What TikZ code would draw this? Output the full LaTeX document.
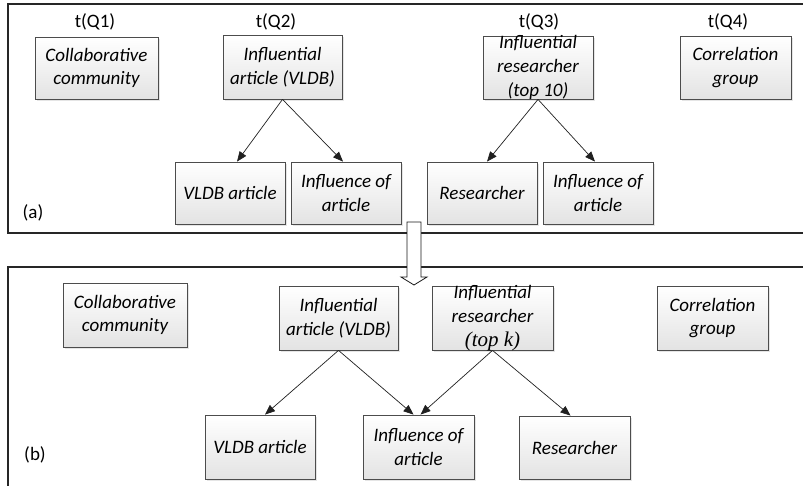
\documentclass[tikz,border=0pt]{standalone}
\usepackage{fontspec}
\setmainfont{Carlito}
\newfontfamily\timesfont{Liberation Serif}
\usetikzlibrary{arrows.meta,shadows}
\tikzset{
  box/.style={draw=gray!60!black,line width=0.8pt,top color=white,bottom color=gray!22,
    drop shadow={shadow xshift=2pt,shadow yshift=-2pt,fill=gray!40},
    inner sep=0pt,align=center,font=\fontsize{19}{23.5}\selectfont\itshape,
    minimum width=110pt,minimum height=62pt},
  boxtext/.style={align=center,font=\fontsize{19}{24}\selectfont\itshape},
  tag/.style={font=\fontsize{19}{23}\selectfont},
  frame/.style={draw=gray!30!black,line width=1.3pt},
  link/.style={draw=gray!25!black,line width=0.7pt,-{Triangle[length=10pt,width=8pt]}}
}
\begin{document}
\begin{tikzpicture}[x=1pt,y=-1pt]
\useasboundingbox (0,0) rectangle (803,486);
\draw [frame] (803,4) -- (8,4) -- (8,233) -- (803,233);
\draw [frame] (803,267) -- (8,267) -- (8,486);
\node [tag] (qa) at (95,22) {t(Q1)};
\node [tag] (qb) at (276,22) {t(Q2)};
\node [tag] (qc) at (539,22) {t(Q3)};
\node [tag] (qd) at (728,22) {t(Q4)};
\node [tag] (lbla) at (33,213) {(a)};
\node [tag] (lblb) at (35,455) {(b)};
\node [box,minimum width=123pt] (cc1) at (96.5,68) {Collaborative\\community};
\node [box,minimum width=119pt,minimum height=64pt] (ia1) at (282.5,67) {Influential\\article (VLDB)};
\node [box,minimum height=63pt,label={[boxtext]center:Influential\\researcher\\(top 10)}] (ir1) at (538,67.5) {};
\node [box,minimum width=111pt,minimum height=63pt] (cg1) at (735.5,67.5) {Correlation\\group};
\node [box] (va1) at (230,193) {VLDB article};
\node [box] (io1) at (346,193) {Influence of\\article};
\node [box] (rs1) at (482,193) {Researcher};
\node [box] (io2) at (598,193) {Influence of\\article};
\node [box,minimum width=124pt,minimum height=64pt] (cc2) at (125,315) {Collaborative\\community};
\node [box,minimum width=119pt,minimum height=64pt] (ia2) at (338.5,318) {Influential\\article (VLDB)};
\node [box,minimum width=121pt,minimum height=64pt,label={[boxtext]center:Influential\\researcher\\{\timesfont\fontsize{21}{24}\selectfont\itshape(top k)}}] (ir2) at (492.5,318) {};
\node [box,minimum width=111pt,minimum height=64pt] (cg2) at (712.5,318) {Correlation\\group};
\node [box,minimum height=64pt] (va2) at (260,447) {VLDB article};
\node [box,minimum width=111pt,minimum height=64pt] (io3) at (418.5,447) {Influence of\\article};
\node [box,minimum width=111pt,minimum height=63pt] (rs3) at (574.5,447.5) {Researcher};
\draw [link] (ia1.south) -- ([xshift=7pt]va1.north);
\draw [link] (ia1.south) -- ([xshift=-3pt]io1.north);
\draw [link] (ir1.south) -- ([xshift=5pt]rs1.north);
\draw [link] (ir1.south) -- ([xshift=-3pt]io2.north);
\draw [link] (ia2.south) -- ([xshift=5pt]va2.north);
\draw [link] (ia2.south) -- ([xshift=-5pt]io3.north);
\draw [link] (ir2.south) -- ([xshift=2pt]io3.north);
\draw [link] (ir2.south) -- ([xshift=-4pt]rs3.north);
\draw [draw=gray!20!black,line width=0.8pt,fill=white] (407,222) -- (421,222) -- (421,277) -- (427,277) -- (414,285) -- (401,277) -- (407,277) -- cycle;
\end{tikzpicture}
\end{document}
